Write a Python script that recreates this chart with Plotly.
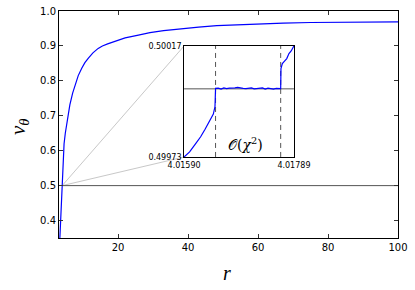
import plotly.graph_objects as go

# ---- data ----
r_main = [3.35, 3.5, 3.65, 3.8, 3.9, 4.016, 4.15, 4.3, 4.55, 4.9, 5.3, 5.8, 6.2,
          7.0, 7.7, 8.6, 9.6, 10.5, 11.5, 12.8, 14.3, 15.5, 17.0, 19.1, 22.0, 25.8, 29.1, 33.0,
          38.6, 43.0, 48.2, 55.0, 60.0, 67.2, 75.0, 85.0, 100.0]
nu_main = [0.35, 0.38, 0.42, 0.455, 0.48, 0.50, 0.54, 0.58, 0.62, 0.65, 0.675, 0.705, 0.731,
           0.765, 0.789, 0.815, 0.836, 0.852, 0.865, 0.880, 0.893, 0.900, 0.906, 0.914, 0.923,
           0.931, 0.938, 0.944, 0.950, 0.954, 0.958, 0.961, 0.963, 0.965, 0.967, 0.968, 0.969]

r_inset = [4.01590, 4.01600, 4.01610, 4.01620, 4.01628, 4.01636, 4.01643, 4.01646, 4.016465,
           4.01647, 4.01652, 4.01657, 4.01662, 4.01667, 4.01672, 4.01677, 4.01682, 4.01687,
           4.01692, 4.01697, 4.01702, 4.01707, 4.01712, 4.01717, 4.01722, 4.01727, 4.01732,
           4.01737, 4.01742, 4.01747, 4.01752, 4.01757, 4.01762, 4.01765, 4.017655,
           4.01768, 4.01772, 4.01776, 4.01780, 4.01784, 4.01789]
nu_inset = [0.49973, 0.49975, 0.49978, 0.49981, 0.49984, 0.49987, 0.49990, 0.49993, 0.49999,
            0.500002, 0.500003, 0.499999, 0.500004, 0.500001, 0.500003, 0.500002, 0.500004, 0.500006,
            0.500003, 0.500002, 0.500001, 0.500002, 0.500004, 0.500000, 0.500001, 0.500002, 0.500004,
            0.499999, 0.500003, 0.500001, 0.499999, 0.500002, 0.500000, 0.500001, 0.50008,
            0.50010, 0.50011, 0.50012, 0.50014, 0.50015, 0.50017]

x_ticks = [20, 40, 60, 80, 100]
y_ticks = [0.4, 0.5, 0.6, 0.7, 0.8, 0.9, 1.0]
x_range = [3.1, 100]
y_range = [0.35, 1.0]

inset_xlim = [4.01590, 4.01789]
inset_ylim = [0.49973, 0.50017]
inset_dom_x = [0.369, 0.693]
inset_dom_y = [0.357, 0.846]
r_cross = 4.016
nu_ref = 0.5
dashed_r = [4.01647, 4.01765]

# ---- figure ----
fig = go.Figure()

def px_to_x(f):
    return x_range[0] + f * (x_range[1] - x_range[0])

def py_to_y(f):
    return y_range[0] + f * (y_range[1] - y_range[0])

# connector lines from crossing point to the inset's left corners
for fy in inset_dom_y:
    fig.add_trace(go.Scatter(x=[r_cross, px_to_x(inset_dom_x[0])], y=[nu_ref, py_to_y(fy)],
                             mode="lines", line=dict(color="#c8c8c8", width=1),
                             hoverinfo="skip", showlegend=False))

# horizontal reference line
fig.add_trace(go.Scatter(x=[r_cross, x_range[1]], y=[nu_ref, nu_ref], mode="lines",
                         line=dict(color="#555555", width=1), showlegend=False))

# main curve
fig.add_trace(go.Scatter(x=r_main, y=nu_main, mode="lines", line=dict(color="#0000ff", width=1.2),
                         showlegend=False))

# inset: reference line, dashed lines, curve
fig.add_trace(go.Scatter(x=inset_xlim, y=[nu_ref, nu_ref], mode="lines",
                         line=dict(color="#555555", width=1), xaxis="x2", yaxis="y2",
                         showlegend=False))
for xv in dashed_r:
    fig.add_trace(go.Scatter(x=[xv, xv], y=inset_ylim, mode="lines",
                             line=dict(color="#555555", width=1, dash="5px,4px"),
                             xaxis="x2", yaxis="y2", showlegend=False))
fig.add_trace(go.Scatter(x=r_inset, y=nu_inset, mode="lines", line=dict(color="#0000ff", width=1.2),
                         xaxis="x2", yaxis="y2", showlegend=False))

tickfont = dict(family="DejaVu Sans", size=10, color="black")

fig.update_layout(
    width=415, height=290,
    margin=dict(l=59, r=17, t=11, b=52, autoexpand=False),
    paper_bgcolor="white", plot_bgcolor="white",
    xaxis=dict(range=x_range, tickvals=x_ticks, ticks="inside", ticklen=4, tickcolor="#333",
               showline=True, linecolor="black", linewidth=1, mirror="ticks",
               showgrid=False, zeroline=False, tickfont=tickfont),
    yaxis=dict(range=y_range, tickvals=y_ticks, ticktext=[f"{v:.1f}" for v in y_ticks],
               ticks="inside", ticklen=4, tickcolor="#333",
               showline=True, linecolor="black", linewidth=1, mirror="ticks",
               showgrid=False, zeroline=False, tickfont=tickfont),
    xaxis2=dict(domain=inset_dom_x, anchor="y2", range=inset_xlim, tickvals=inset_xlim,
                ticktext=[f"{v:.5f}" for v in inset_xlim], ticks="", showline=True,
                linecolor="black", linewidth=1, mirror=True, showgrid=False, zeroline=False,
                tickfont=dict(family="DejaVu Sans", size=8, color="black")),
    yaxis2=dict(domain=inset_dom_y, anchor="x2", range=inset_ylim, tickvals=inset_ylim,
                ticktext=[f"{v:.5f}" for v in inset_ylim], ticks="", showline=True,
                linecolor="black", linewidth=1, mirror=True, showgrid=False, zeroline=False,
                tickfont=dict(family="DejaVu Sans", size=8, color="black")),
)

fig.add_annotation(text="<i>r</i>", xref="paper", yref="paper", x=0.496, y=-0.155,
                   showarrow=False, font=dict(family="Liberation Serif", size=20, color="black"),
                   xanchor="center", yanchor="middle")
fig.add_annotation(text="<i>ν</i><sub><i>θ</i></sub>", xref="paper", y=0.49, yref="paper", x=-0.12,
                   showarrow=False, textangle=-90,
                   font=dict(family="Liberation Serif", size=21, color="black"),
                   xanchor="center", yanchor="middle")
fig.add_annotation(text="𝒪(<i>χ</i><sup>2</sup>)", xref="x2 domain", yref="y2 domain", x=0.56, y=0.12,
                   showarrow=False, font=dict(family="DejaVu Serif", size=14, color="black"),
                   xanchor="center", yanchor="middle")

fig.write_html("out.html", config={"displayModeBar": False},
               post_script="document.body.style.margin='0';document.body.style.padding='0';")
